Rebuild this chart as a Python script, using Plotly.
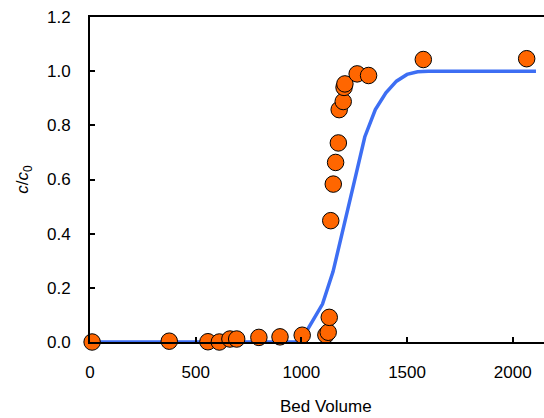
import plotly.graph_objects as go

# Measured breakthrough data
bed_volume = [10, 375, 558, 612, 662, 694, 799, 899, 1004, 1116, 1127, 1132,
              1139, 1151, 1162, 1175, 1179, 1198, 1202, 1206, 1264, 1318, 1577, 2066]
c_ratio = [0.0, 0.003, 0.001, 0.0, 0.011, 0.011, 0.017, 0.019, 0.025, 0.026, 0.036, 0.091,
           0.448, 0.583, 0.663, 0.735, 0.858, 0.888, 0.94, 0.953, 0.990, 0.984, 1.043, 1.046]

# Model curve
model_bv = [0, 500, 1000, 1025, 1050, 1075, 1100, 1150, 1200, 1250, 1300, 1350,
            1400, 1450, 1500, 1550, 1600, 1800, 2000, 2110]
model_c = [0.0, 0.0, 0.0, 0.04, 0.075, 0.105, 0.14, 0.26, 0.42, 0.59, 0.757, 0.858,
           0.92, 0.963, 0.988, 0.998, 1.0, 1.0, 1.0, 1.0]

x_ticks = [0, 500, 1000, 1500, 2000]
y_ticks = [0.0, 0.2, 0.4, 0.6, 0.8, 1.0, 1.2]

fig = go.Figure()
fig.add_trace(go.Scatter(x=model_bv, y=model_c, mode="lines",
                         line=dict(color="#3D6EF3", width=3.5),
                         cliponaxis=False, showlegend=False))
fig.add_trace(go.Scatter(x=bed_volume, y=c_ratio, mode="markers",
                         marker=dict(size=16.5, color="#FF6600",
                                     line=dict(color="black", width=1)),
                         cliponaxis=False, showlegend=False))

font = "Liberation Sans, Arial, sans-serif"
fig.update_layout(
    width=544, height=418,
    margin=dict(l=90, r=0, t=17, b=76),
    plot_bgcolor="white", paper_bgcolor="white",
    font=dict(family=font, size=17, color="black"),
    xaxis=dict(range=[0, 2148], tickvals=x_ticks, ticktext=[str(v) for v in x_ticks],
               showgrid=False, zeroline=False, showline=True, linecolor="black",
               linewidth=2, mirror=True, ticks="inside", ticklen=5, tickwidth=2,
               tickcolor="black", ticklabelstandoff=14),
    yaxis=dict(range=[0, 1.2], tickvals=y_ticks, ticktext=[f"{v:.1f}" for v in y_ticks],
               showgrid=False, zeroline=False, showline=True, linecolor="black",
               linewidth=2, ticks="inside", ticklen=5, tickwidth=2,
               tickcolor="black", ticklabelstandoff=14,
               title=dict(text="<i>c</i>/<i>c</i><sub>0</sub>", standoff=14,
                          font=dict(size=17))),
    annotations=[dict(text="Bed Volume", xref="paper", yref="paper",
                      x=0.519, y=-0.197, xanchor="center", yanchor="middle",
                      showarrow=False, font=dict(size=17, family=font))],
)

fig.write_html("out.html")
